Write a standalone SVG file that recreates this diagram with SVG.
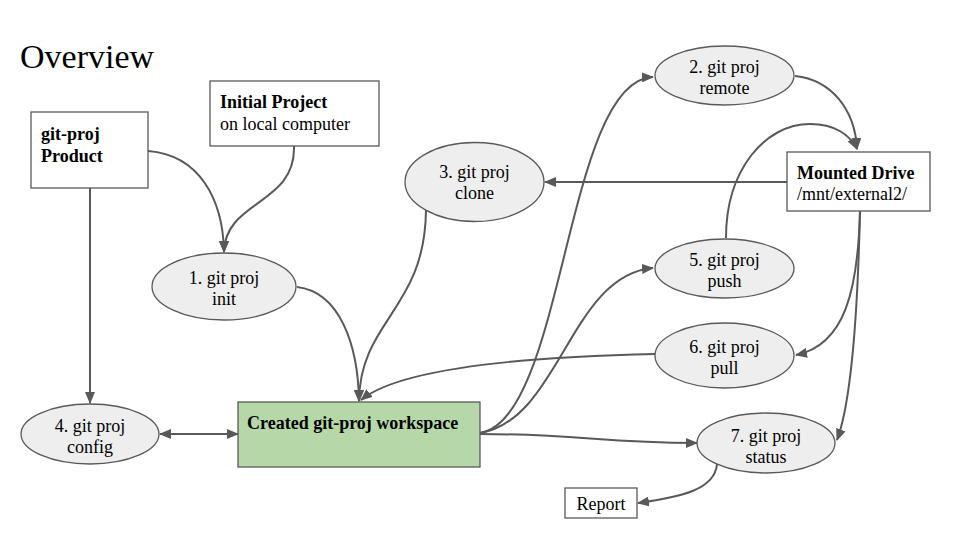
<svg xmlns="http://www.w3.org/2000/svg" width="960" height="540" viewBox="0 0 960 540">
<defs>
<marker id="ah" markerUnits="userSpaceOnUse" markerWidth="12" markerHeight="10" refX="11" refY="5" orient="auto-start-reverse" viewBox="0 0 12 10">
<path d="M0,0 L12,5 L0,10 z" fill="#595959"/>
</marker>
<style>
text{font-family:"Liberation Serif","Times New Roman",serif;font-size:18px;fill:#000}
.b{font-weight:bold}
.c{text-anchor:middle}
.box{fill:#fff;stroke:#595959;stroke-width:1.3}
.ell{fill:#eeeeee;stroke:#595959;stroke-width:1.3}
.ws{fill:#b6d7a8;stroke:#595959;stroke-width:1.3}
.con path,.con line{fill:none;stroke:#595959;stroke-width:2;marker-end:url(#ah)}
</style>
</defs>
<rect width="960" height="540" fill="#fff"/>
<text x="20" y="68" style="font-size:34px">Overview</text>

<g class="con">
<path d="M148,151 C200,155 223,200 224,252"/>
<path d="M294,146 C296,205 225,200 224,252"/>
<line x1="90" y1="188" x2="90" y2="403"/>
<line x1="160" y1="434" x2="238" y2="434" style="marker-start:url(#ah)"/>
<path d="M297,287 C340,292 358,345 359,401"/>
<path d="M426,210 C425,310 360,320 359,401"/>
<path d="M655,354 C520,357 400,368 361,400"/>
<line x1="787" y1="182" x2="545" y2="182"/>
<path d="M795,76 C832,80 855,110 857,149"/>
<path d="M726,238 C726,170 765,124 810,124 C835,124 850,135 857,149"/>
<path d="M480,433 C565,420 565,80 653,77"/>
<path d="M480,433 C560,420 570,275 653,268"/>
<path d="M480,434 C580,434 600,443 697,443"/>
<path d="M860,211 C858,290 845,345 796,355"/>
<path d="M860,211 C858,300 852,400 837,440"/>
<path d="M717,464 C715,490 680,497 638,503"/>
</g>

<g id="product">
<rect class="box" x="31" y="112" width="117" height="76"/>
<text class="b" x="41" y="140">git-proj</text>
<text class="b" x="41" y="162">Product</text>
</g>
<g id="initial">
<rect class="box" x="210" y="81" width="169" height="65"/>
<text class="b" x="220" y="108">Initial Project</text>
<text x="220" y="130">on local computer</text>
</g>
<g id="init">
<ellipse class="ell" cx="224" cy="286.5" rx="72" ry="33.5"/>
<text class="c" x="224" y="284">1. git proj</text>
<text class="c" x="224" y="305">init</text>
</g>
<g id="clone">
<ellipse class="ell" cx="474.5" cy="182" rx="69.5" ry="39.5"/>
<text class="c" x="474.5" y="178">3. git proj</text>
<text class="c" x="474.5" y="199">clone</text>
</g>
<g id="remote">
<ellipse class="ell" cx="724.5" cy="75.5" rx="69.5" ry="29.5"/>
<text class="c" x="724.5" y="73">2. git proj</text>
<text class="c" x="724.5" y="94">remote</text>
</g>
<g id="mounted">
<rect class="box" x="787" y="152" width="143" height="59"/>
<text class="b" x="797" y="179">Mounted Drive</text>
<text x="797" y="200">/mnt/external2/</text>
</g>
<g id="push">
<ellipse class="ell" cx="724.5" cy="268.5" rx="69.5" ry="29.5"/>
<text class="c" x="724.5" y="266">5. git proj</text>
<text class="c" x="724.5" y="287">push</text>
</g>
<g id="pull">
<ellipse class="ell" cx="724.5" cy="355.5" rx="69.5" ry="32.5"/>
<text class="c" x="724.5" y="353">6. git proj</text>
<text class="c" x="724.5" y="374">pull</text>
</g>
<g id="status">
<ellipse class="ell" cx="766" cy="443" rx="69" ry="30"/>
<text class="c" x="766" y="442">7. git proj</text>
<text class="c" x="766" y="463">status</text>
</g>
<g id="report">
<rect class="box" x="565" y="488" width="72" height="30"/>
<text class="c" x="601" y="510">Report</text>
</g>
<g id="config">
<ellipse class="ell" cx="90" cy="434" rx="69" ry="30"/>
<text class="c" x="90" y="432">4. git proj</text>
<text class="c" x="90" y="453">config</text>
</g>
<g id="workspace">
<rect class="ws" x="238" y="402" width="242" height="65"/>
<text class="b" x="247" y="429">Created git-proj workspace</text>
</g>
</svg>
